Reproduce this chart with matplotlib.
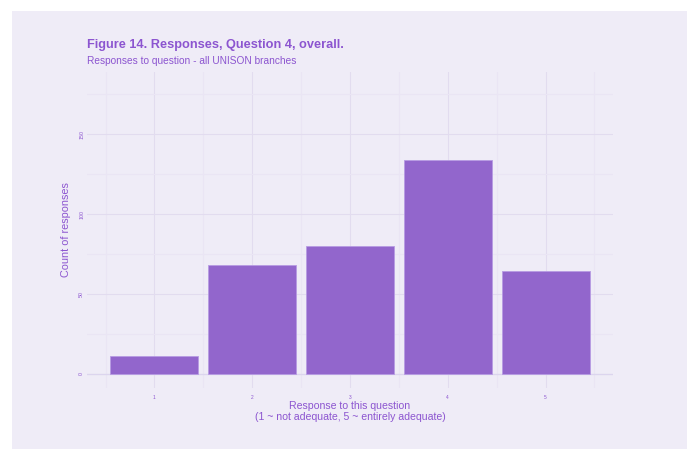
import matplotlib
matplotlib.use("Agg")
import matplotlib.pyplot as plt
from matplotlib.patches import Rectangle

# values
responses = [1, 2, 3, 4, 5]
counts = [11, 68, 80, 134, 64]
y_ticks = [0, 50, 100, 150]

bg = "#efecf7"
bar_col = "#9266cc"
text_col = "#8c55d0"
grid_col = "#e2dcef"
minor_col = "#eae5f4"

plt.rcParams["font.family"] = ["Liberation Sans", "DejaVu Sans"]

W, H = 692, 449
fig = plt.figure(figsize=(W / 100, H / 100), dpi=100, facecolor="white")
fig.patches.append(Rectangle((12 / W, 0), 675 / W, 438 / H, transform=fig.transFigure,
                             facecolor=bg, edgecolor="none", zorder=-10))

ax = fig.add_axes([87 / W, 1 - 388 / H, 526 / W, 316 / H])
ax.set_facecolor(bg)

ax.bar(responses, counts, width=0.9, color=bar_col, edgecolor="#b79be3", linewidth=0.6, zorder=3)

ax.set_xlim(0.31, 5.69)
ax.set_ylim(-9, 189)

# grid every half step on x, every 25 on y
for i in range(1, 12):
    ax.axvline(i / 2, color=grid_col if i % 2 == 0 else minor_col, lw=0.8, zorder=1)
for y in range(0, 200, 25):
    ax.axhline(y, color=grid_col if y % 50 == 0 else minor_col, lw=0.8, zorder=1)
ax.axhline(0, color="#dcd5ee", lw=0.9, zorder=2)

ax.set_xticks(responses)
ax.set_xticklabels([str(r) for r in responses], fontsize=3.5, color=text_col)
ax.set_yticks(y_ticks)
ax.set_yticklabels([str(t) for t in y_ticks], fontsize=3.8, color=text_col, rotation=90, va="center")
ax.tick_params(axis="x", length=0, pad=5)
ax.tick_params(axis="y", length=0, pad=2)
for s in ax.spines.values():
    s.set_visible(False)

ax.set_xlabel("Response to this question\n(1 ~ not adequate, 5 ~ entirely adequate)",
              fontsize=7.6, color=text_col, labelpad=1, linespacing=1.05)
ax.set_ylabel("Count of responses", fontsize=7.8, color=text_col, labelpad=6)

fig.text(87 / W, 1 - 45 / H, "Figure 14. Responses, Question 4, overall.", fontsize=9.2,
         fontweight="bold", color=text_col, va="center")
fig.text(87 / W, 1 - 61 / H, "Responses to question - all UNISON branches", fontsize=7.3,
         color=text_col, va="center")

fig.savefig("out.png", dpi=100, facecolor="white")
